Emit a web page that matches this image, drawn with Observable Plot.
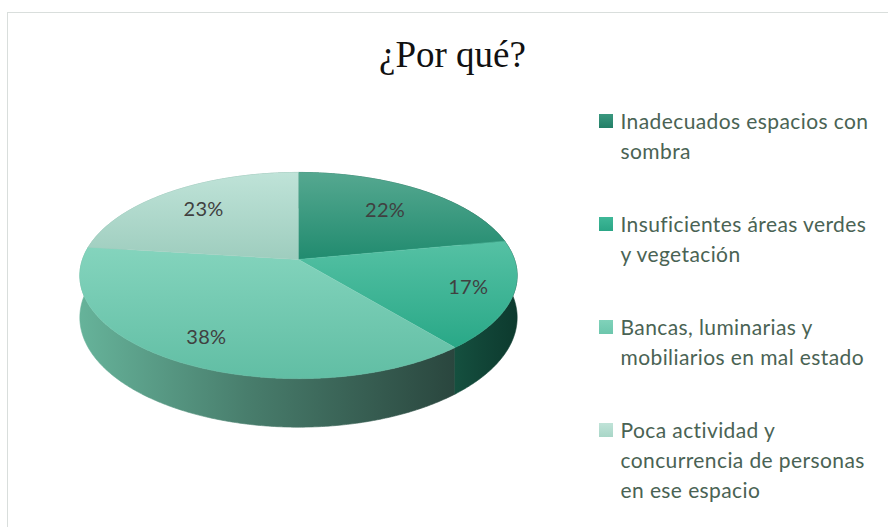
<!DOCTYPE html>
<html>
<head>
<meta charset="utf-8">
<script src="https://cdn.jsdelivr.net/npm/d3@7"></script>
<script src="https://cdn.jsdelivr.net/npm/@observablehq/plot@0.6"></script>
<style>
  html, body { margin: 0; padding: 0; background: #fff; }
  #wrap { position: relative; width: 888px; height: 527px; overflow: hidden; }
  #frame { position: absolute; left: 7px; top: 12px; width: 900px; height: 600px;
           border-left: 1px solid #d9dedc; border-top: 1px solid #d9dedc; }
  #chart { position: absolute; left: 0; top: 0; }
  .legend-text text { letter-spacing: 0.4px; }
  .pct-text text { letter-spacing: 0.3px; }
</style>
</head>
<body>
<div id="wrap"><div id="frame"></div><div id="chart"></div></div>
<script>
// ---- data ----
const title = "¿Por qué?";
const categories = [
  "Inadecuados espacios con sombra",
  "Insuficientes áreas verdes y vegetación",
  "Bancas, luminarias y mobiliarios en mal estado",
  "Poca actividad y concurrencia de personas en ese espacio"
];
const legendLines = [
  ["Inadecuados espacios con", "sombra"],
  ["Insuficientes áreas verdes", "y vegetación"],
  ["Bancas, luminarias y", "mobiliarios en mal estado"],
  ["Poca actividad y", "concurrencia de personas", "en ese espacio"]
];
const values = [22, 17, 38, 23];
const percentLabels = ["22%", "17%", "38%", "23%"];

// ---- styles / layout ----
const topColors = [["#55a890", "#218b6f"], ["#55c1a4", "#29a887"], ["#84d4bd", "#61bea4"], ["#bfe3d8", "#9ecdbe"]];
const sideColors = [["#1d6c57", "#145040"], ["#15503f", "#0d3a2e"], ["#66b39a", "#2a463e"], ["#8fc1b1", "#6f9f90"]];
const swatchColors = [["#3a987f", "#237f67"], ["#3fb898", "#2ba686"], ["#80d2ba", "#6cc6ac"], ["#c0e3d8", "#a8d6c7"]];
const labelRadius = [0.68, 0.8, 0.79, 0.72];
const W = 888, H = 527;
const cx = 298, cy = 259, rx = 216, ry = 100.6, D = 6.43, depth = 41;

function proj(t, r, level) {
  const X = r * Math.sin(t), Z = r * Math.cos(t), k = D / (D + Z);
  return {x: cx + rx * X * k, y: cy - ry * Z * k + level * depth * k};
}

const arcs = d3.pie().sort(null)(values);
const step = Math.PI / 360;
function rim(a0, a1, level) {
  const n = Math.max(2, Math.ceil(Math.abs(a1 - a0) / step));
  const pts = [];
  for (let j = 0; j <= n; j++) pts.push(proj(a0 + (a1 - a0) * j / n, 1, level));
  return pts;
}

const tops = arcs.map((a, i) => [{x: cx, y: cy}, ...rim(a.startAngle, a.endAngle, 0)].map(p => ({...p, i})));
const walls = arcs.map((a, i) => [...rim(a.startAngle, a.endAngle, 0), ...rim(a.endAngle, a.startAngle, 1)].map(p => ({...p, i})));
const wallOrder = arcs.map((a, i) => i).sort((p, q) =>
  Math.cos((arcs[q].startAngle + arcs[q].endAngle) / 2) - Math.cos((arcs[p].startAngle + arcs[p].endAngle) / 2)
).reverse();

const labelData = arcs.map((a, i) => {
  const m = (a.startAngle + a.endAngle) / 2;
  return {...proj(m, labelRadius[i], 0), text: percentLabels[i]};
});

const legendText = [];
legendLines.forEach((lines, i) => lines.forEach((t, j) => legendText.push({t, x: 620, y: 128 + i * 103 + j * 30})));
const swatches = categories.map((c, i) => ({i, x1: 599, x2: 613, y1: 114 + i * 103, y2: 128 + i * 103}));

const marks = [];
wallOrder.forEach(i => marks.push(Plot.line(walls[i], {x: "x", y: "y", fill: `url(#side${i})`, stroke: `url(#side${i})`, strokeWidth: 0.6})));
tops.forEach((pts, i) => marks.push(Plot.line(pts, {x: "x", y: "y", fill: `url(#top${i})`, stroke: `url(#top${i})`, strokeWidth: 0.6})));
marks.push(Plot.text(labelData, {x: "x", y: "y", text: "text", fontSize: 20, fill: "#404040", fontFamily: "Lato", className: "pct-text"}));
swatches.forEach((s, i) => marks.push(Plot.rect([s], {x1: "x1", x2: "x2", y1: "y1", y2: "y2", fill: `url(#sw${i})`})));
marks.push(Plot.text(legendText, {x: "x", y: "y", text: "t", textAnchor: "start", lineAnchor: "bottom", fontSize: 21, fill: "#4a6354", fontFamily: "Lato", className: "legend-text"}));
marks.push(Plot.text([title], {x: () => 452, y: () => 66, text: d => d, lineAnchor: "bottom", fontSize: 37, fill: "#111", fontFamily: "Liberation Serif"}));

const svg = Plot.plot({
  width: W, height: H,
  margin: 0,
  x: {domain: [0, W], range: [0, W], axis: null},
  y: {domain: [0, H], range: [0, H], axis: null},
  style: {background: "transparent", overflow: "visible"},
  marks
});

const defs = d3.select(svg).insert("defs", ":first-child");
topColors.forEach((c, i) => {
  const g = defs.append("linearGradient").attr("id", `top${i}`).attr("x1", 0).attr("y1", 0).attr("x2", 0).attr("y2", 1);
  g.append("stop").attr("offset", "0%").attr("stop-color", c[0]);
  g.append("stop").attr("offset", "100%").attr("stop-color", c[1]);
});
sideColors.forEach((c, i) => {
  const g = defs.append("linearGradient").attr("id", `side${i}`).attr("x1", 0).attr("y1", 0).attr("x2", 1).attr("y2", 0);
  g.append("stop").attr("offset", "0%").attr("stop-color", c[0]);
  g.append("stop").attr("offset", "45%").attr("stop-color", d3.interpolateRgb(c[0], c[1])(0.5));
  g.append("stop").attr("offset", "100%").attr("stop-color", c[1]);
});
swatchColors.forEach((c, i) => {
  const g = defs.append("linearGradient").attr("id", `sw${i}`).attr("x1", 0).attr("y1", 0).attr("x2", 0).attr("y2", 1);
  g.append("stop").attr("offset", "0%").attr("stop-color", c[0]);
  g.append("stop").attr("offset", "100%").attr("stop-color", c[1]);
});

document.getElementById("chart").appendChild(svg);
</script>
</body>
</html>
